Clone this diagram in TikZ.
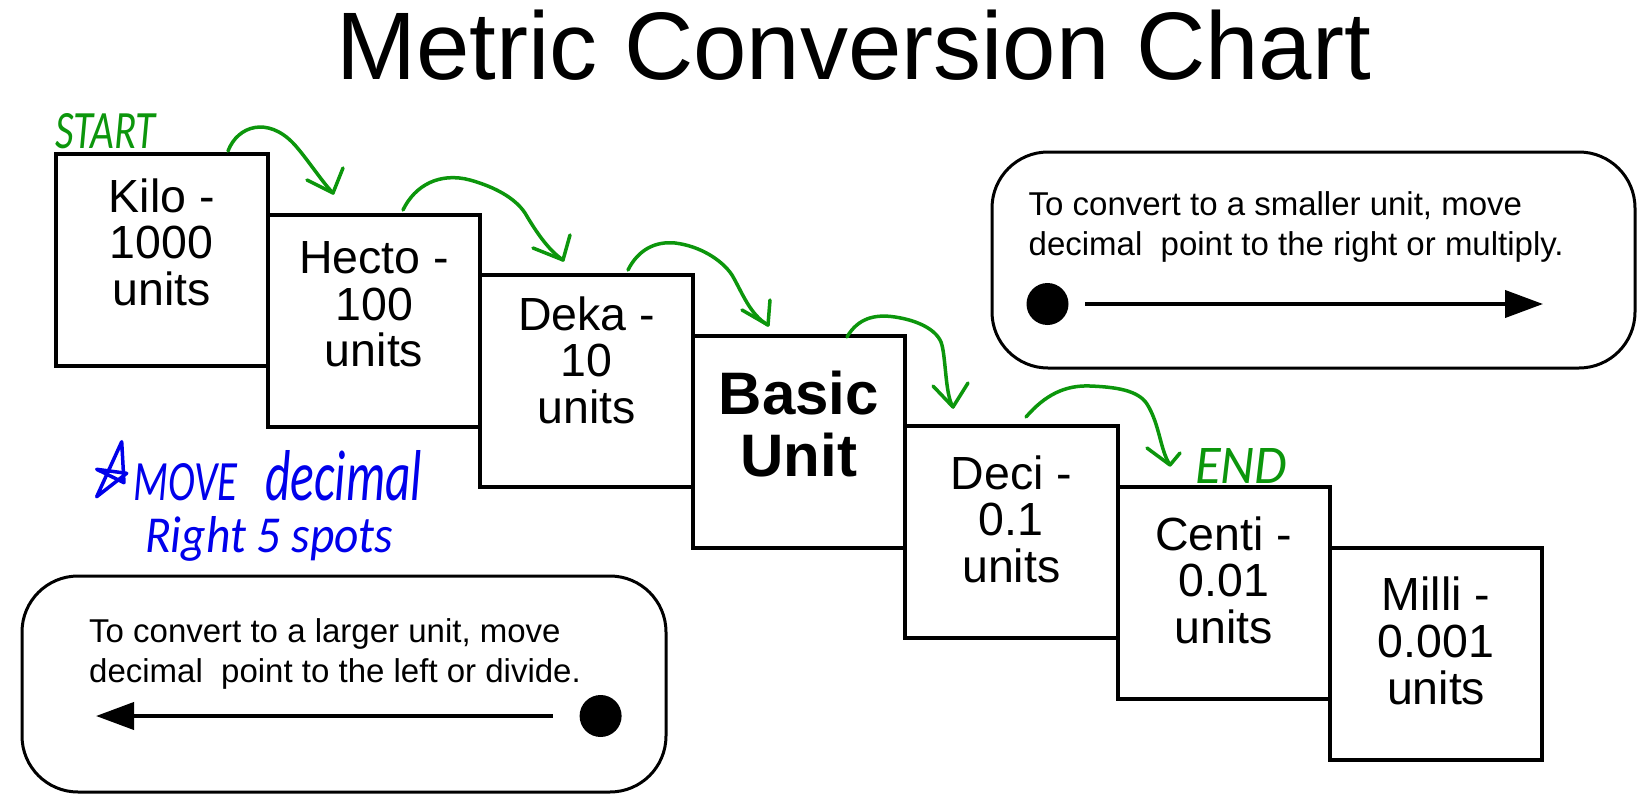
\documentclass[tikz,border=0pt]{standalone}
\usepackage{fontspec}
\usepackage{graphicx}
\setmainfont{Liberation Sans}
\newfontfamily\handfont{Carlito}
\usetikzlibrary{arrows.meta}
\definecolor{hgreen}{RGB}{12,150,12}
\definecolor{hblue}{RGB}{0,0,235}
\begin{document}
\begin{tikzpicture}[x=1pt,y=-1pt,
  unitbox/.style={draw=black,line width=4pt,minimum width=212.4pt,minimum height=212pt,inner sep=0pt,outer sep=0pt,anchor=north west},
  unittext/.style={font=\fontsize{46.5pt}{46.7pt}\selectfont,align=center,inner sep=0pt,anchor=north},
  infobox/.style={draw=black,line width=3pt,rounded corners=56pt,inner sep=0pt,outer sep=0pt,anchor=north west},
  infotext/.style={font=\fontsize{33pt}{40pt}\selectfont,align=left,inner sep=0pt,anchor=north west},
  bigdot/.style={circle,fill=black,minimum size=42pt,inner sep=0pt},
  bigarrow/.style={line width=4pt,-{Triangle[length=38pt,width=27pt]}},
  handarrow/.style={hgreen,line width=3.5pt,line cap=round,line join=round},
  handtext/.style={inner sep=0pt,anchor=base west},
  ]
\useasboundingbox (0,0) rectangle (1641,808);
\fill[white] (0,0) rectangle (1641,808);

% title
\node[font=\fontsize{96pt}{96pt}\selectfont,inner sep=0pt,anchor=base west] (title) at (336,79.3) {Metric Conversion Chart};

% unit boxes
\node[unitbox] (kilo)  at (55.5,153.5) {};
\node[unitbox] (hecto) at (267.9,214.5) {};
\node[unitbox] (deka)  at (480.3,275) {};
\node[unitbox] (basic) at (692.7,336) {};
\node[unitbox] (deci)  at (905.1,425.5) {};
\node[unitbox] (centi) at (1117.5,486.5) {};
\node[unitbox] (milli) at (1329.9,548) {};

\node[unittext] (kilot)  at (161.7,178.2) {Kilo -\\1000\\units};
\node[unittext] (hectot) at (374.1,241.2) {Hecto -\\100\\units};
\node[unittext] (dekat)  at (586.5,296.2) {Deka -\\10\\units};
\node[unittext,font=\fontsize{60pt}{62pt}\selectfont\bfseries] (basict) at (798.9,371) {Basic\\Unit};
\node[unittext] (decit)  at (1011.3,455.2) {Deci -\\0.1\\units};
\node[unittext] (centit) at (1223.7,516.2) {Centi -\\0.01\\units};
\node[unittext] (millit) at (1436.1,576.7) {Milli -\\0.001\\units};

% info boxes
\node[infobox,minimum width=643pt,minimum height=216pt] (smallbox) at (992,152) {};
\node[infobox,minimum width=644pt,minimum height=216pt] (largebox) at (22,576) {};
\node[infotext] (smalltext) at (1028.5,191.4) {To convert to a smaller unit, move\\decimal\ \ point to the right or multiply.};
\node[infotext] (largetext) at (89,618.1) {To convert to a larger unit, move\\decimal\ \ point to the left or divide.};

\node[bigdot] (rdot) at (1047.5,304) {};
\node[bigdot] (ldot) at (600.6,716) {};
\coordinate (rtip) at (1543,304);
\coordinate (ltip) at (96,716);
\draw[bigarrow] ([xshift=16.5pt]rdot.east) -- (rtip);
\draw[bigarrow] ([xshift=-26.6pt]ldot.west) -- (ltip);

% green handwritten arrows
\coordinate (a1s) at (228,151);  \coordinate (a1t) at (333,193);
\coordinate (a1l) at (307,180);  \coordinate (a1r) at (343,168);
\coordinate (a2s) at (403,210);  \coordinate (a2t) at (563,260);
\coordinate (a2l) at (533,248);  \coordinate (a2r) at (570,235);
\coordinate (a3s) at (628,270);  \coordinate (a3t) at (768,325);
\coordinate (a3l) at (742,310);  \coordinate (a3r) at (770,300);
\coordinate (a4s) at (847,337);  \coordinate (a4t) at (953,407);
\coordinate (a4l) at (933,386);  \coordinate (a4r) at (968,383);
\coordinate (a5s) at (1026,417); \coordinate (a5t) at (1170,465);
\coordinate (a5l) at (1147,448); \coordinate (a5r) at (1180,453);

\draw[handarrow] (a1s) .. controls (238,125) and (268,117) .. (293,143)
  .. controls (305,155.5) and (322,182) .. (a1t);
\draw[handarrow] (a1l) -- (a1t) -- (a1r);
\draw[handarrow] (a2s) .. controls (415,185) and (440,172) .. (470,180)
  .. controls (495,187) and (515,198) .. (525,213)
  .. controls (535,230) and (548,250) .. (a2t);
\draw[handarrow] (a2l) -- (a2t) -- (a2r);
\draw[handarrow] (a3s) .. controls (638,250) and (655,241) .. (675,243)
  .. controls (700,246) and (722,260) .. (732,275)
  .. controls (742,292) and (750,315) .. (a3t);
\draw[handarrow] (a3l) -- (a3t) -- (a3r);
\draw[handarrow] (a4s) .. controls (858,318) and (875,314) .. (895,317)
  .. controls (915,320) and (935,328) .. (941,342)
  .. controls (946,355) and (945,395) .. (a4t);
\draw[handarrow] (a4l) -- (a4t) -- (a4r);
\draw[handarrow] (a5s) .. controls (1045,395) and (1065,385) .. (1090,386)
  .. controls (1115,387) and (1138,390) .. (1147,404)
  .. controls (1160,425) and (1160,450) .. (a5t);
\draw[handarrow] (a5l) -- (a5t) -- (a5r);

% handwritten labels
\node[handtext,text=hgreen] (starttxt) at (55,148) {\resizebox{100pt}{35pt}{\handfont\itshape START}};
\node[handtext,text=hgreen] (endtxt) at (1195,483) {\resizebox{92pt}{35pt}{\handfont\itshape END}};

\draw[hblue,line width=3.5pt,line cap=round,line join=round]
  (96.7,496.7) -- (121.7,441.7) -- (124,482.7) -- (96.7,469.3) -- (126.7,473.3) -- (96.7,496.7);
\node[handtext,text=hblue] (movetxt) at (133,500) {\resizebox{104pt}{37pt}{\handfont\itshape MOVE}};
\node[handtext,text=hblue] (decimaltxt) at (265,500) {\resizebox{157pt}{50pt}{\handfont\itshape decimal}};
\node[handtext,text=hblue] (righttxt) at (145,552) {\resizebox{248pt}{36pt}{\handfont\itshape Right 5 spots}};
\end{tikzpicture}
\end{document}
